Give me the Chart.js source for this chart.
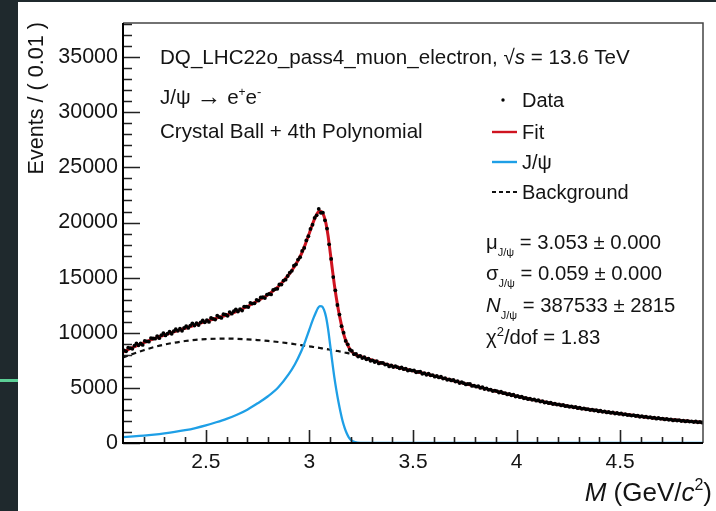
<!DOCTYPE html>
<html>
<head>
<meta charset="utf-8">
<script src="https://cdn.jsdelivr.net/npm/chart.js@4.4.0/dist/chart.umd.min.js"></script>
<style>
  html, body { margin: 0; padding: 0; width: 716px; height: 511px; overflow: hidden; background: #1f292d; }
  #wrap { position: absolute; left: 18px; top: 2px; width: 698px; height: 509px; background: #fff; }
  #accent { position: absolute; left: 0; top: 379px; width: 18px; height: 3px; background: #5ccf96; }
</style>
</head>
<body>
<div id="accent"></div>
<div id="wrap"><canvas id="massChart" width="698" height="509"></canvas></div>
<script>
// histogram: 0.01 GeV bins from 2.1 to 4.9
const massMin = 2.1;
const massMax = 4.9;
const binWidth = 0.01;
const dataCounts = [
  8410, 8320, 8650, 8600, 8540, 8830, 9030, 8860, 9040, 8900,
  9260, 9220, 9190, 9520, 9480, 9460, 9700, 9510, 9780, 9970,
  9760, 9920, 10100, 9910, 10140, 10330, 10180, 10370, 10180, 10430,
  10600, 10440, 10650, 10860, 10660, 10870, 10700, 10950, 11120, 10950,
  11150, 10980, 11340, 11260, 11200, 11550, 11420, 11350, 11680, 11650,
  11540, 11880, 11730, 11950, 12130, 11930, 12150, 12010, 12380, 12380,
  12330, 12720, 12650, 12670, 12990, 12920, 13210, 13220, 13150, 13460,
  13520, 13480, 13880, 13960, 13990, 14380, 14370, 14730, 14820, 15150,
  15450, 15620, 16080, 16200, 16640, 16850, 17420, 17700, 18380, 18760,
  19420, 19800, 20420, 20650, 21230, 20880, 20890, 20200, 19450, 18020,
  16700, 15050, 13850, 12520, 11650, 10600, 10010, 9260, 8950, 8460,
  8350, 8060, 8080, 7840, 7910, 7700, 7780, 7590, 7650, 7460,
  7500, 7350, 7430, 7220, 7270, 7270, 7110, 7140, 6950, 7030,
  6890, 6970, 6880, 6770, 6860, 6700, 6750, 6570, 6640, 6570,
  6590, 6420, 6460, 6470, 6280, 6340, 6180, 6300, 6140, 6160,
  6020, 6080, 5950, 6010, 5840, 5890, 5730, 5780, 5680, 5720,
  5570, 5620, 5440, 5510, 5430, 5310, 5360, 5350, 5180, 5210,
  5110, 5150, 5000, 5070, 4900, 4960, 4820, 4850, 4710, 4760,
  4710, 4580, 4650, 4520, 4530, 4410, 4450, 4330, 4380, 4220,
  4270, 4160, 4200, 4060, 4090, 3980, 4030, 3920, 3950, 3840,
  3880, 3760, 3800, 3670, 3700, 3610, 3650, 3530, 3570, 3490,
  3510, 3410, 3460, 3340, 3370, 3290, 3330, 3240, 3280, 3160,
  3200, 3100, 3150, 3060, 3080, 2990, 3030, 2950, 2980, 2880,
  2930, 2830, 2870, 2770, 2810, 2730, 2780, 2670, 2720, 2640,
  2680, 2580, 2620, 2530, 2560, 2490, 2530, 2450, 2480, 2380,
  2430, 2350, 2400, 2310, 2340, 2260, 2300, 2210, 2270, 2190,
  2220, 2140, 2180, 2110, 2150, 2050, 2100, 2040, 2080, 1990,
  2030, 1960, 2010, 1940, 1970, 1900, 1950, 1880, 1920, 1860
];

// fit curves
const fitMass = [
  2.10, 2.15, 2.20, 2.25, 2.30, 2.35, 2.40, 2.45, 2.50, 2.55, 2.60, 2.65, 2.70, 2.75, 2.80, 2.85, 2.90,
  2.93, 2.96, 2.98,
  3.00, 3.01, 3.02, 3.03, 3.04, 3.05, 3.06, 3.07, 3.08, 3.09, 3.10, 3.11, 3.12, 3.13, 3.14, 3.15, 3.16, 3.17, 3.18, 3.19, 3.20,
  3.22, 3.25, 3.30,
  3.35, 3.40, 3.45, 3.50, 3.55, 3.60, 3.65, 3.70, 3.75, 3.80, 3.85, 3.90, 3.95, 4.00, 4.05, 4.10,
  4.15, 4.20, 4.25, 4.30, 4.35, 4.40, 4.45, 4.50, 4.55, 4.60, 4.65, 4.70, 4.75, 4.80, 4.85, 4.90
];
const fitTotal = [
  8250, 8700, 9090, 9460, 9800, 10110, 10410, 10720, 11030, 11320, 11610, 11950, 12380, 12900, 13450, 14200, 15260,
  16080, 17100, 18020,
  19060, 19600, 20100, 20550, 20900, 21050, 20950, 20600, 19900, 18800, 17350, 15850, 14400, 13150, 12050, 11100, 10250, 9600, 9080, 8680, 8380,
  8040, 7840, 7530,
  7250, 6990, 6760, 6540, 6320, 6090, 5860, 5630, 5390, 5160, 4930, 4700, 4470, 4250, 4040, 3850,
  3660, 3490, 3330, 3180, 3040, 2900, 2770, 2650, 2530, 2410, 2300, 2200, 2100, 2010, 1940, 1870
];
const fitSignal = [
  540, 600, 670, 760, 870, 1000, 1160, 1360, 1600, 1880, 2190, 2560, 3020, 3600, 4240, 5060, 6250,
  7150, 8300, 9250,
  10300, 10850, 11350, 11800, 12200, 12420, 12400, 12100, 11450, 10350, 8900, 7400, 6000, 4800, 3750, 2820, 2000, 1380, 880, 520, 290,
  80, 10, 0,
  0, 0, 0, 0, 0, 0, 0, 0, 0, 0, 0, 0, 0, 0, 0, 0,
  0, 0, 0, 0, 0, 0, 0, 0, 0, 0, 0, 0, 0, 0, 0, 0
];
const fitBackground = [
  7750, 8100, 8420, 8700, 8930, 9110, 9250, 9360, 9430, 9460, 9470, 9450, 9400, 9340, 9260, 9160, 9040,
  8960, 8880, 8820,
  8770, 8740, 8710, 8680, 8650, 8620, 8590, 8560, 8530, 8500, 8460, 8430, 8400, 8360, 8330, 8290, 8250, 8210, 8170, 8130, 8090,
  7990, 7830, 7530,
  7250, 6990, 6760, 6540, 6320, 6090, 5860, 5630, 5390, 5160, 4930, 4700, 4470, 4250, 4040, 3850,
  3660, 3490, 3330, 3180, 3040, 2900, 2770, 2650, 2530, 2410, 2300, 2200, 2100, 2010, 1940, 1870
];

const xTickValues = [2.5, 3, 3.5, 4, 4.5];
const yTickValues = [0, 5000, 10000, 15000, 20000, 25000, 30000, 35000];
const yMax = 38100;

const FAMILY = '"Liberation Sans", Arial, Helvetica, sans-serif';
const TEXT = '#141414';
const RED = '#cf1420';
const BLUE = '#1e9fe6';

function font(size, italic) {
  return (italic ? 'italic ' : '') + size + 'px ' + FAMILY;
}

// draws a run of text pieces (for sub/superscripts and italics)
function drawRich(ctx, parts, x, baseline, size, align) {
  let total = 0;
  parts.forEach(p => {
    ctx.font = font(p.size || size, p.italic);
    p.w = ctx.measureText(p.t).width;
    total += p.w;
  });
  let cx = align === 'right' ? x - total : x;
  ctx.textAlign = 'left';
  ctx.textBaseline = 'alphabetic';
  ctx.fillStyle = TEXT;
  parts.forEach(p => {
    ctx.font = font(p.size || size, p.italic);
    ctx.fillText(p.t, cx, baseline + (p.dy || 0));
    cx += p.w;
  });
}

const rootFrame = {
  id: 'rootFrame',
  afterDraw(chart) {
    const { ctx, chartArea: a, scales: { x, y } } = chart;
    ctx.save();

    // top and right frame
    ctx.strokeStyle = '#444';
    ctx.lineWidth = 1.5;
    ctx.beginPath();
    ctx.moveTo(a.left, a.top); ctx.lineTo(a.right, a.top); ctx.lineTo(a.right, a.bottom);
    ctx.stroke();

    // ticks pointing into the frame
    ctx.strokeStyle = '#222';
    ctx.lineWidth = 1.6;
    ctx.beginPath();
    for (let k = 0; k * 1000 <= yMax; k++) {
      const py = Math.round(y.getPixelForValue(k * 1000)) + 0.5;
      const len = k % 5 === 0 ? 17 : 9;
      ctx.moveTo(a.left, py); ctx.lineTo(a.left + len, py);
    }
    for (let k = 22; k <= 48; k++) {
      const px = Math.round(x.getPixelForValue(k / 10)) + 0.5;
      const len = k % 5 === 0 ? 13 : 6;
      ctx.moveTo(px, a.bottom); ctx.lineTo(px, a.bottom - len);
    }
    ctx.stroke();

    // left and bottom axis lines
    ctx.strokeStyle = '#000';
    ctx.lineWidth = 2;
    ctx.beginPath();
    ctx.moveTo(a.left, a.top); ctx.lineTo(a.left, a.bottom); ctx.lineTo(a.right, a.bottom);
    ctx.stroke();

    // header text
    drawRich(ctx, [{ t: 'DQ_LHC22o_pass4_muon_electron, ' }, { t: '\u221A' }, { t: 's', italic: true }, { t: ' = 13.6 TeV' }], 142, 62, 20.6);
    drawRich(ctx, [{ t: 'J/\u03C8 ' }, { t: '\u2192', size: 25, dy: 1 }, { t: ' e' }, { t: '+', size: 12, dy: -8 }, { t: 'e' }, { t: '-', size: 13, dy: -8 }], 142, 102, 20.6);
    drawRich(ctx, [{ t: 'Crystal Ball + 4th Polynomial' }], 142, 136, 20.6);

    // legend
    ctx.fillStyle = '#000';
    ctx.beginPath(); ctx.arc(485, 98, 1.7, 0, Math.PI * 2); ctx.fill();
    ctx.lineWidth = 2.4;
    ctx.strokeStyle = RED;
    ctx.beginPath(); ctx.moveTo(474, 130); ctx.lineTo(499, 130); ctx.stroke();
    ctx.strokeStyle = BLUE;
    ctx.beginPath(); ctx.moveTo(474, 160); ctx.lineTo(499, 160); ctx.stroke();
    ctx.strokeStyle = '#111';
    ctx.lineWidth = 2;
    ctx.setLineDash([4, 3]);
    ctx.beginPath(); ctx.moveTo(474, 190); ctx.lineTo(500, 190); ctx.stroke();
    ctx.setLineDash([]);
    drawRich(ctx, [{ t: 'Data' }], 504, 105, 20);
    drawRich(ctx, [{ t: 'Fit' }], 504, 137, 20);
    drawRich(ctx, [{ t: 'J/\u03C8' }], 504, 167, 20);
    drawRich(ctx, [{ t: 'Background' }], 504, 197, 20);

    // fit results
    const sub = { t: 'J/\u03C8', size: 11, dy: 7 };
    drawRich(ctx, [{ t: '\u03BC' }, sub, { t: ' = 3.053 \u00B1 0.000' }], 468, 247, 20.3);
    drawRich(ctx, [{ t: '\u03C3' }, sub, { t: ' = 0.059 \u00B1 0.000' }], 468, 278, 20.3);
    drawRich(ctx, [{ t: 'N', italic: true }, sub, { t: ' = 387533 \u00B1 2815' }], 468, 310, 20.3);
    drawRich(ctx, [{ t: '\u03C7' }, { t: '2', size: 13, dy: -8 }, { t: '/dof = 1.83' }], 468, 342, 20.3);

    // axis titles
    drawRich(ctx, [{ t: 'M', italic: true }, { t: ' (GeV/' }, { t: 'c', italic: true }, { t: '2', size: 16, dy: -11 }, { t: ')' }], 694, 499, 26, 'right');
    ctx.save();
    ctx.translate(19, 20);
    ctx.rotate(-Math.PI / 2);
    ctx.font = font(21.6);
    ctx.fillStyle = TEXT;
    ctx.textAlign = 'right';
    ctx.textBaseline = 'middle';
    ctx.fillText('Events / ( 0.01 )', 0, 0);
    ctx.restore();

    ctx.restore();
  }
};

const dataPoints = dataCounts.map((c, i) => ({ x: massMin + (i + 0.5) * binWidth, y: c }));
const curve = values => fitMass.map((m, i) => ({ x: m, y: values[i] }));

const ctx = document.getElementById('massChart').getContext('2d');
new Chart(ctx, {
  type: 'line',
  data: {
    datasets: [
      {
        label: 'Data', data: dataPoints, showLine: false,
        pointRadius: 1.9, pointBackgroundColor: '#000', pointBorderWidth: 0, borderColor: '#000'
      },
      {
        label: 'Fit', data: curve(fitTotal), borderColor: RED, borderWidth: 3,
        pointRadius: 0, cubicInterpolationMode: 'monotone'
      },
      {
        label: 'J/\u03C8', data: curve(fitSignal), borderColor: BLUE, borderWidth: 2.3,
        pointRadius: 0, cubicInterpolationMode: 'monotone'
      },
      {
        label: 'Background', data: curve(fitBackground), borderColor: '#111', borderWidth: 2.2,
        borderDash: [5, 4], pointRadius: 0, cubicInterpolationMode: 'monotone'
      }
    ]
  },
  options: {
    responsive: false,
    animation: false,
    devicePixelRatio: 1,
    layout: { padding: { top: 21, right: 13, left: 0, bottom: 0 } },
    plugins: { legend: { display: false }, tooltip: { enabled: false } },
    scales: {
      x: {
        type: 'linear', min: massMin, max: massMax,
        grid: { display: false, drawTicks: false },
        border: { display: false },
        afterBuildTicks: s => { s.ticks = xTickValues.map(v => ({ value: v })); },
        afterFit: s => { s.height = 68; },
        ticks: {
          font: { family: FAMILY, size: 21 }, color: TEXT, padding: 7,
          maxRotation: 0, autoSkip: false, callback: v => String(v)
        }
      },
      y: {
        type: 'linear', min: 0, max: yMax,
        grid: { display: false, drawTicks: false },
        border: { display: false },
        afterBuildTicks: s => { s.ticks = yTickValues.map(v => ({ value: v })); },
        afterFit: s => { s.width = 105; },
        ticks: {
          font: { family: FAMILY, size: 21.5 }, color: TEXT, padding: 5,
          autoSkip: false, callback: v => String(v)
        }
      }
    }
  },
  plugins: [rootFrame]
});
</script>
</body>
</html>
